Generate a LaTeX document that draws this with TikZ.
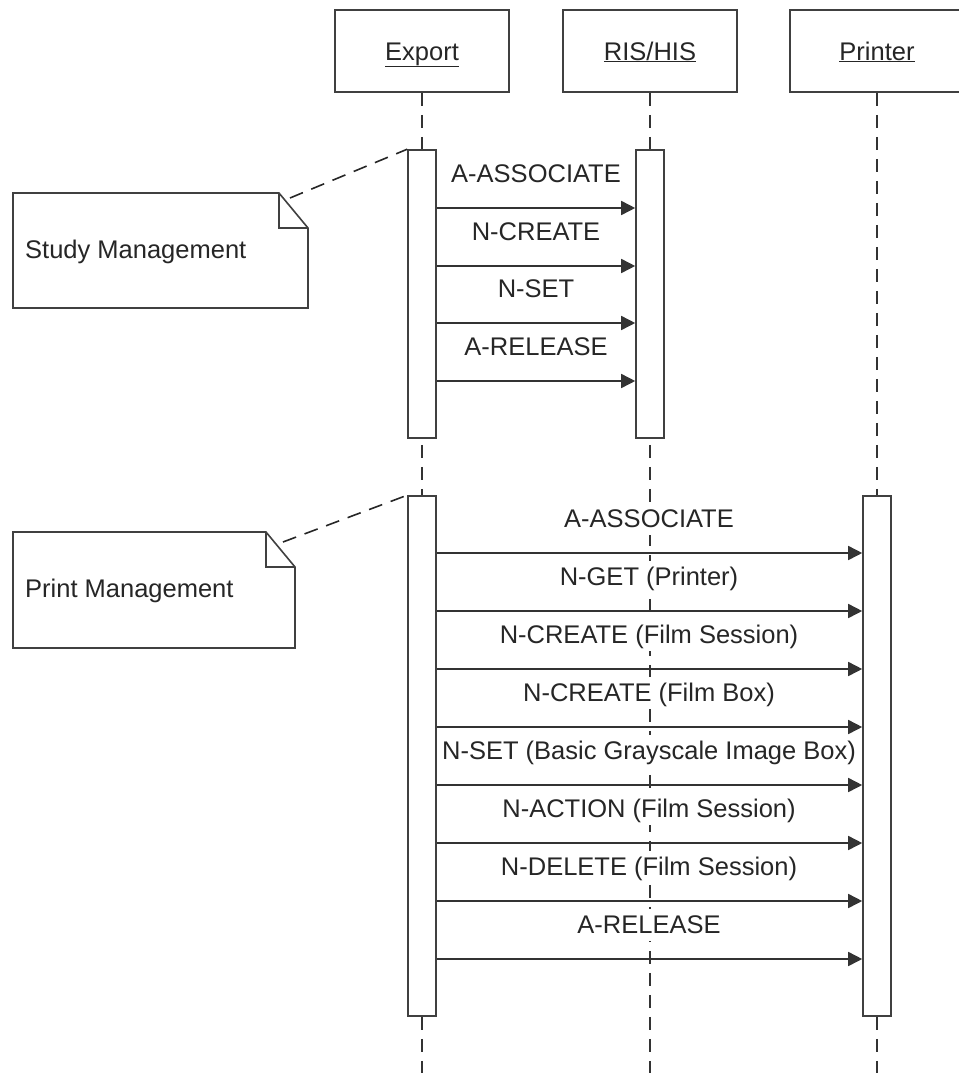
\documentclass[tikz,border=0pt]{standalone}
\usepackage{fontspec}
\setmainfont{Liberation Sans}
\usetikzlibrary{arrows.meta}
\begin{document}
\begin{tikzpicture}[x=1pt,y=-1pt,
  every node/.style={font=\fontsize{25.5}{30}\selectfont, text=black!85},
  head/.style={draw=black!75, line width=1.6pt, fill=white, minimum width=174pt, minimum height=82pt, inner sep=0pt, text height=18pt, text depth=0pt},
  life/.style={draw=black!80, line width=1.6pt, dash pattern=on 13pt off 9pt},
  actbox/.style={draw=black!75, line width=1.6pt, fill=white, minimum width=28pt, inner sep=0pt},
  msg/.style={draw=black!80, line width=1.6pt, -{Triangle[length=14pt,width=14pt]}},
  lbl/.style={anchor=base, inner sep=2pt},
  notebox/.style={draw=black!75, line width=1.6pt, fill=white, line join=miter},
  notelink/.style={draw=black!85, line width=1.6pt, dash pattern=on 14pt off 9pt}
]
\useasboundingbox (0,0) rectangle (958,1073);

% lifeline heads
\node[head] (exp) at (422,51) {\underline{Export}};
\node[head] (ris) at (650,51) {\underline{RIS/HIS}};
\node[head] (prn) at (877,51) {\underline{Printer}};

% lifeline ends
\coordinate (expE) at (422,1073);
\coordinate (risE) at (650,1073);
\coordinate (prnE) at (877,1073);

% lifelines
\draw[life] (exp.south) -- (expE);
\draw[life] (prn.south) -- (prnE);
\draw[life] (ris.south) -- (risE);

% white masks behind the print management labels
\foreach \yy in {553,611,669,727,785,843,901,959}{
  \fill[white] (600,\yy-50) rectangle (700,\yy-18);
}

% activation boxes
\node[actbox, minimum height=288pt] (ea1) at (422,294) {};
\node[actbox, minimum height=288pt] (ra1) at (650,294) {};
\node[actbox, minimum height=520pt] (ea2) at (422,756) {};
\node[actbox, minimum height=520pt] (pa1) at (877,756) {};

% study management messages
\foreach \yy/\txt [count=\i] in {208/A-ASSOCIATE, 266/N-CREATE, 323/N-SET, 381/A-RELEASE}{
  \node[lbl] (sl\i) at (536,\yy-26) {\txt};
  \draw[msg] (ea1.east |- 0,\yy) -- (ra1.west |- 0,\yy);
}

% print management messages
\foreach \yy/\txt [count=\i] in {553/A-ASSOCIATE, 611/N-GET (Printer), 669/N-CREATE (Film Session), 727/N-CREATE (Film Box), 785/N-SET (Basic Grayscale Image Box), 843/N-ACTION (Film Session), 901/N-DELETE (Film Session), 959/A-RELEASE}{
  \node[lbl] (pl\i) at (649,\yy-26) {\txt};
  \draw[msg] (ea2.east |- 0,\yy) -- (pa1.west |- 0,\yy);
}

% notes
\draw[notebox] (13,193) -- (279,193) -- (308,228) -- (308,308) -- (13,308) -- cycle;
\draw[notebox, fill=none] (279,193) -- (279,228) -- (308,228);
\node[anchor=base west, inner sep=0pt] (n1) at (25,258) {Study Management};
\coordinate (n1c) at (290,198);
\draw[notelink] (n1c) -- (ea1.north west);

\draw[notebox] (13,532) -- (266,532) -- (295,567) -- (295,648) -- (13,648) -- cycle;
\draw[notebox, fill=none] (266,532) -- (266,567) -- (295,567);
\node[anchor=base west, inner sep=0pt] (n2) at (25,597) {Print Management};
\coordinate (n2c) at (283,542);
\draw[notelink] (n2c) -- (ea2.north west);
\end{tikzpicture}
\end{document}
